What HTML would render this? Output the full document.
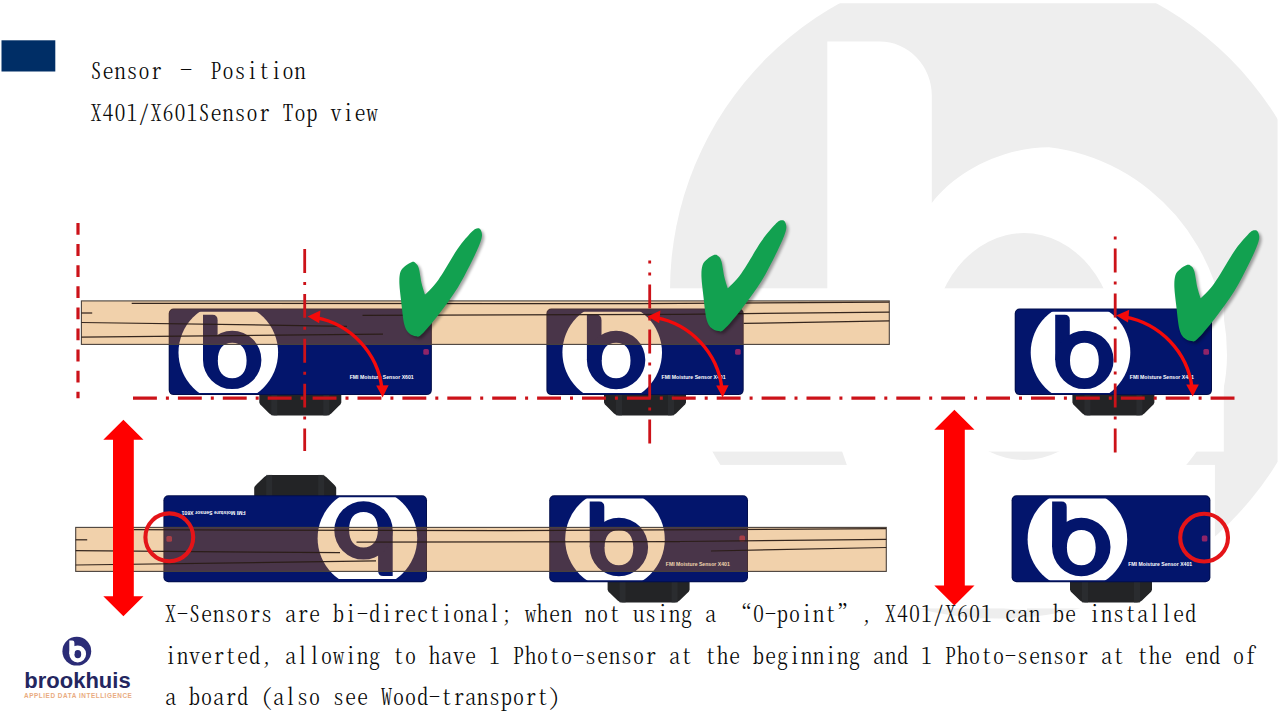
<!DOCTYPE html>
<html lang="en"><head><meta charset="utf-8"><title>Sensor - Position</title>
<style>
html,body{margin:0;padding:0;background:#fff;}
body{width:1280px;height:721px;position:relative;overflow:hidden;font-family:"Liberation Sans",sans-serif;}
.t{position:absolute;white-space:pre;color:#0a0a0a;font-family:"Noto Serif CJK SC","Liberation Serif",serif;font-weight:300;font-size:22px;line-height:41.6px;font-feature-settings:"hwid";font-kerning:none;letter-spacing:1px;}
.fw{display:inline-block;width:24px;text-align:center;position:relative;top:-4px;}
.fwl{display:inline-block;width:24px;text-align:right;}
.fwr{display:inline-block;width:24px;text-align:left;}
.brand{position:absolute;left:24.3px;top:667.6px;font:bold 22px/26px "Liberation Sans",sans-serif;color:#24265f;letter-spacing:0;white-space:pre;}
.sub{position:absolute;left:24px;top:691.5px;font:bold 6.4px/8px "Liberation Sans",sans-serif;color:#e9ab80;letter-spacing:0.55px;white-space:pre;}
</style></head><body>
<svg width="1280" height="721" viewBox="0 0 1280 721" style="position:absolute;left:0;top:0">
<defs><filter id="blur" x="-20%" y="-20%" width="140%" height="140%"><feGaussianBlur stdDeviation="1.6"/></filter><clipPath id="wmclip"><rect x="0" y="3.3" width="1277.6" height="720"/></clipPath></defs>
<g clip-path="url(#wmclip)"><circle cx="998" cy="290.5" r="328" fill="#eeeeee"/><path d="M827.3 41.6 L879.8 41.6 A52 54 0 0 1 931.8 95.6 L931.8 203 C955 172 1002 147.3 1049 147.3 A200 209 0 0 1 1227 355 A200 182 0 0 1 1027 537 L1027 610 A200 255 0 0 1 827.3 355 Z" fill="#fff"/><ellipse cx="1024" cy="346.5" rx="92.7" ry="113.5" fill="#eeeeee"/></g>
<rect x="60" y="288.3" width="1163.8" height="163.3" fill="#fff"/>
<rect x="60" y="464.9" width="1154.9" height="143.5" fill="#fff"/>
<rect x="1.5" y="40.3" width="53.8" height="31.2" fill="#002e66"/>
<g>
<path d="M259.3 394.1 L259.3 402.6 Q259.8 404.6 261.8 406.1 L269.3 413.4 Q271.3 415.4 274.3 415.4 L326.3 415.4 Q329.3 415.4 331.3 413.4 L338.8 406.1 Q340.8 404.6 341.3 402.6 L341.3 394.1 Z" fill="#232426"/>
<rect x="271.3" y="394.1" width="6" height="21.3" fill="#2e3033" opacity="0.7"/>
<rect x="323.3" y="394.1" width="6" height="21.3" fill="#2e3033" opacity="0.7"/>
<rect x="168.7" y="308.5" width="263.2" height="86.6" rx="5" ry="5" fill="#020e4c"/>
<rect x="169.7" y="309.5" width="261.2" height="84.6" rx="4" ry="4" fill="#03156c"/>
<clipPath id="c168_308"><rect x="168.7" y="311.8" width="263.2" height="81.3"/></clipPath>
<circle cx="228.3" cy="352.5" r="49.8" fill="#fff" clip-path="url(#c168_308)"/>
<path fill="#03156c" d="M203.0 314.8 L212.5 314.8 Q217.6 314.8 217.6 320.3 L217.6 359.9 L203.0 359.9 Z"/>
<path fill="#03156c" fill-rule="evenodd" d="M203.0 359.9 A29.2 29.2 0 1 0 261.4 359.9 A29.2 29.2 0 1 0 203.0 359.9 Z M217.80 360.50 C217.80 371.83 222.98 378.20 232.20 378.20 C241.42 378.20 246.60 371.83 246.60 360.50 C246.60 349.17 241.42 342.80 232.20 342.80 C222.98 342.80 217.80 349.17 217.80 360.50 Z"/>
<text x="1654.8" y="1517.2" transform="scale(0.25)" text-anchor="end" font-family="Liberation Sans, sans-serif" font-weight="bold" font-size="21" fill="#fff" textLength="256" lengthAdjust="spacingAndGlyphs">FMI Moisture Sensor X601</text>
<rect x="423.3" y="348.9" width="5.6" height="5.8" rx="1.5" fill="#8f2468"/>
</g>
<g>
<path d="M604.0 394.1 L604.0 402.6 Q604.5 404.6 606.5 406.1 L614.0 413.4 Q616.0 415.4 619.0 415.4 L671.0 415.4 Q674.0 415.4 676.0 413.4 L683.5 406.1 Q685.5 404.6 686.0 402.6 L686.0 394.1 Z" fill="#232426"/>
<rect x="616.0" y="394.1" width="6" height="21.3" fill="#2e3033" opacity="0.7"/>
<rect x="668.0" y="394.1" width="6" height="21.3" fill="#2e3033" opacity="0.7"/>
<rect x="546.4" y="308.5" width="197.3" height="86.6" rx="5" ry="5" fill="#020e4c"/>
<rect x="547.4" y="309.5" width="195.3" height="84.6" rx="4" ry="4" fill="#03156c"/>
<clipPath id="c546_308"><rect x="546.4" y="311.8" width="197.3" height="81.3"/></clipPath>
<circle cx="612.2" cy="352.5" r="49.8" fill="#fff" clip-path="url(#c546_308)"/>
<path fill="#03156c" d="M586.9 314.8 L596.4 314.8 Q601.5 314.8 601.5 320.3 L601.5 359.9 L586.9 359.9 Z"/>
<path fill="#03156c" fill-rule="evenodd" d="M586.9 359.9 A29.2 29.2 0 1 0 645.3 359.9 A29.2 29.2 0 1 0 586.9 359.9 Z M601.70 360.50 C601.70 371.83 606.88 378.20 616.10 378.20 C625.32 378.20 630.50 371.83 630.50 360.50 C630.50 349.17 625.32 342.80 616.10 342.80 C606.88 342.80 601.70 349.17 601.70 360.50 Z"/>
<text x="2902.0" y="1517.2" transform="scale(0.25)" text-anchor="end" font-family="Liberation Sans, sans-serif" font-weight="bold" font-size="21" fill="#fff" textLength="256" lengthAdjust="spacingAndGlyphs">FMI Moisture Sensor X401</text>
<rect x="735.1" y="348.9" width="5.6" height="5.8" rx="1.5" fill="#8f2468"/>
</g>
<g>
<path d="M1072.4 394.1 L1072.4 402.6 Q1072.9 404.6 1074.9 406.1 L1082.4 413.4 Q1084.4 415.4 1087.4 415.4 L1139.4 415.4 Q1142.4 415.4 1144.4 413.4 L1151.9 406.1 Q1153.9 404.6 1154.4 402.6 L1154.4 394.1 Z" fill="#232426"/>
<rect x="1084.4" y="394.1" width="6" height="21.3" fill="#2e3033" opacity="0.7"/>
<rect x="1136.4" y="394.1" width="6" height="21.3" fill="#2e3033" opacity="0.7"/>
<rect x="1014.7" y="308.5" width="197.3" height="86.6" rx="5" ry="5" fill="#020e4c"/>
<rect x="1015.7" y="309.5" width="195.3" height="84.6" rx="4" ry="4" fill="#03156c"/>
<clipPath id="c1014_308"><rect x="1014.7" y="311.8" width="197.3" height="81.3"/></clipPath>
<circle cx="1080.5" cy="352.5" r="49.8" fill="#fff" clip-path="url(#c1014_308)"/>
<path fill="#03156c" d="M1055.2 314.8 L1064.7 314.8 Q1069.8 314.8 1069.8 320.3 L1069.8 359.9 L1055.2 359.9 Z"/>
<path fill="#03156c" fill-rule="evenodd" d="M1055.2 359.9 A29.2 29.2 0 1 0 1113.6 359.9 A29.2 29.2 0 1 0 1055.2 359.9 Z M1070.00 360.50 C1070.00 371.83 1075.18 378.20 1084.40 378.20 C1093.62 378.20 1098.80 371.83 1098.80 360.50 C1098.80 349.17 1093.62 342.80 1084.40 342.80 C1075.18 342.80 1070.00 349.17 1070.00 360.50 Z"/>
<text x="4775.2" y="1517.2" transform="scale(0.25)" text-anchor="end" font-family="Liberation Sans, sans-serif" font-weight="bold" font-size="21" fill="#fff" textLength="256" lengthAdjust="spacingAndGlyphs">FMI Moisture Sensor X401</text>
<rect x="1203.4" y="348.9" width="5.6" height="5.8" rx="1.5" fill="#8f2468"/>
</g>
<g transform="rotate(180 295.20 538.70)">
<path d="M254.2 581.2 L254.2 589.7 Q254.7 591.7 256.7 593.2 L264.2 600.5 Q266.2 602.5 269.2 602.5 L321.2 602.5 Q324.2 602.5 326.2 600.5 L333.7 593.2 Q335.7 591.7 336.2 589.7 L336.2 581.2 Z" fill="#232426"/>
<rect x="266.2" y="581.2" width="6" height="21.3" fill="#2e3033" opacity="0.7"/>
<rect x="318.2" y="581.2" width="6" height="21.3" fill="#2e3033" opacity="0.7"/>
<rect x="163.4" y="495.2" width="263.6" height="87.0" rx="5" ry="5" fill="#020e4c"/>
<rect x="164.4" y="496.2" width="261.6" height="85.0" rx="4" ry="4" fill="#03156c"/>
<clipPath id="c163_495"><rect x="163.4" y="498.5" width="263.6" height="81.7"/></clipPath>
<circle cx="223.0" cy="539.2" r="49.8" fill="#fff" clip-path="url(#c163_495)"/>
<path fill="#03156c" d="M197.7 501.5 L207.2 501.5 Q212.3 501.5 212.3 507.0 L212.3 547.0 L197.7 547.0 Z"/>
<path fill="#03156c" fill-rule="evenodd" d="M197.7 547.0 A29.2 29.2 0 1 0 256.1 547.0 A29.2 29.2 0 1 0 197.7 547.0 Z M212.50 547.60 C212.50 558.93 217.68 565.30 226.90 565.30 C236.12 565.30 241.30 558.93 241.30 547.60 C241.30 536.27 236.12 529.90 226.90 529.90 C217.68 529.90 212.50 536.27 212.50 547.60 Z"/>
<text x="1635.2" y="2265.6" transform="scale(0.25)" text-anchor="end" font-family="Liberation Sans, sans-serif" font-weight="bold" font-size="21" fill="#fff" textLength="256" lengthAdjust="spacingAndGlyphs">FMI Moisture Sensor X601</text>
<rect x="418.4" y="535.6" width="5.6" height="5.8" rx="1.5" fill="#8f2468"/>
</g>
<g>
<path d="M607.6 581.2 L607.6 589.7 Q608.1 591.7 610.1 593.2 L617.6 600.5 Q619.6 602.5 622.6 602.5 L674.6 602.5 Q677.6 602.5 679.6 600.5 L687.1 593.2 Q689.1 591.7 689.6 589.7 L689.6 581.2 Z" fill="#232426"/>
<rect x="619.6" y="581.2" width="6" height="21.3" fill="#2e3033" opacity="0.7"/>
<rect x="671.6" y="581.2" width="6" height="21.3" fill="#2e3033" opacity="0.7"/>
<rect x="549.2" y="495.2" width="198.8" height="87.0" rx="5" ry="5" fill="#020e4c"/>
<rect x="550.2" y="496.2" width="196.8" height="85.0" rx="4" ry="4" fill="#03156c"/>
<clipPath id="c549_495"><rect x="549.2" y="498.5" width="198.8" height="81.7"/></clipPath>
<circle cx="615.0" cy="539.2" r="49.8" fill="#fff" clip-path="url(#c549_495)"/>
<path fill="#03156c" d="M589.7 501.5 L599.2 501.5 Q604.3 501.5 604.3 507.0 L604.3 547.0 L589.7 547.0 Z"/>
<path fill="#03156c" fill-rule="evenodd" d="M589.7 547.0 A29.2 29.2 0 1 0 648.1 547.0 A29.2 29.2 0 1 0 589.7 547.0 Z M604.50 547.60 C604.50 558.93 609.68 565.30 618.90 565.30 C628.12 565.30 633.30 558.93 633.30 547.60 C633.30 536.27 628.12 529.90 618.90 529.90 C609.68 529.90 604.50 536.27 604.50 547.60 Z"/>
<text x="2919.2" y="2265.6" transform="scale(0.25)" text-anchor="end" font-family="Liberation Sans, sans-serif" font-weight="bold" font-size="21" fill="#fff" textLength="256" lengthAdjust="spacingAndGlyphs">FMI Moisture Sensor X401</text>
<rect x="739.4" y="535.6" width="5.6" height="5.8" rx="1.5" fill="#8f2468"/>
</g>
<g>
<path d="M1070.0 581.2 L1070.0 589.7 Q1070.5 591.7 1072.5 593.2 L1080.0 600.5 Q1082.0 602.5 1085.0 602.5 L1137.0 602.5 Q1140.0 602.5 1142.0 600.5 L1149.5 593.2 Q1151.5 591.7 1152.0 589.7 L1152.0 581.2 Z" fill="#232426"/>
<rect x="1082.0" y="581.2" width="6" height="21.3" fill="#2e3033" opacity="0.7"/>
<rect x="1134.0" y="581.2" width="6" height="21.3" fill="#2e3033" opacity="0.7"/>
<rect x="1011.6" y="495.2" width="198.8" height="87.0" rx="5" ry="5" fill="#020e4c"/>
<rect x="1012.6" y="496.2" width="196.8" height="85.0" rx="4" ry="4" fill="#03156c"/>
<clipPath id="c1011_495"><rect x="1011.6" y="498.5" width="198.8" height="81.7"/></clipPath>
<circle cx="1077.4" cy="539.2" r="49.8" fill="#fff" clip-path="url(#c1011_495)"/>
<path fill="#03156c" d="M1052.1 501.5 L1061.6 501.5 Q1066.7 501.5 1066.7 507.0 L1066.7 547.0 L1052.1 547.0 Z"/>
<path fill="#03156c" fill-rule="evenodd" d="M1052.1 547.0 A29.2 29.2 0 1 0 1110.5 547.0 A29.2 29.2 0 1 0 1052.1 547.0 Z M1066.90 547.60 C1066.90 558.93 1072.08 565.30 1081.30 565.30 C1090.52 565.30 1095.70 558.93 1095.70 547.60 C1095.70 536.27 1090.52 529.90 1081.30 529.90 C1072.08 529.90 1066.90 536.27 1066.90 547.60 Z"/>
<text x="4768.8" y="2265.6" transform="scale(0.25)" text-anchor="end" font-family="Liberation Sans, sans-serif" font-weight="bold" font-size="21" fill="#fff" textLength="256" lengthAdjust="spacingAndGlyphs">FMI Moisture Sensor X401</text>
<rect x="1201.8" y="535.6" width="5.6" height="5.8" rx="1.5" fill="#8f2468"/>
</g>
<g>
<rect x="81.4" y="300.9" width="807.9" height="43.5" fill="rgb(212,116,2)" fill-opacity="0.335" stroke="#4a423c" stroke-width="1.1"/>
<line x1="131.7" y1="303.3" x2="640" y2="303.6" stroke="#2a1c16" stroke-width="1.25" stroke-opacity="0.95"/>
<line x1="640" y1="303.6" x2="889" y2="302" stroke="#2a1c16" stroke-width="1.25" stroke-opacity="0.95"/>
<line x1="81.4" y1="313" x2="92.2" y2="313" stroke="#2a1c16" stroke-width="1.25" stroke-opacity="0.95"/>
<line x1="81.4" y1="322.5" x2="347" y2="326.3" stroke="#2a1c16" stroke-width="1.25" stroke-opacity="0.95"/>
<line x1="81.4" y1="337.1" x2="383" y2="334.2" stroke="#2a1c16" stroke-width="1.25" stroke-opacity="0.95"/>
<line x1="362.5" y1="315.3" x2="680" y2="314.3" stroke="#2a1c16" stroke-width="1.25" stroke-opacity="0.95"/>
<line x1="680" y1="314.3" x2="889.3" y2="312.2" stroke="#2a1c16" stroke-width="1.25" stroke-opacity="0.95"/>
<line x1="743.6" y1="323.4" x2="889.3" y2="320.8" stroke="#2a1c16" stroke-width="1.25" stroke-opacity="0.95"/>
</g>
<g>
<rect x="75.7" y="527.4" width="810.6" height="44.0" fill="rgb(212,116,2)" fill-opacity="0.335" stroke="#4a423c" stroke-width="1.1"/>
<line x1="133.6" y1="529.7" x2="500" y2="530.7" stroke="#2a1c16" stroke-width="1.25" stroke-opacity="0.95"/>
<line x1="500" y1="530.7" x2="886" y2="528.6" stroke="#2a1c16" stroke-width="1.25" stroke-opacity="0.95"/>
<line x1="75.7" y1="539.8" x2="87.2" y2="539.8" stroke="#2a1c16" stroke-width="1.25" stroke-opacity="0.95"/>
<line x1="75.7" y1="550.6" x2="340" y2="552.7" stroke="#2a1c16" stroke-width="1.25" stroke-opacity="0.95"/>
<line x1="75.7" y1="565" x2="376" y2="560.9" stroke="#2a1c16" stroke-width="1.25" stroke-opacity="0.95"/>
<line x1="356.5" y1="542" x2="680" y2="541.5" stroke="#2a1c16" stroke-width="1.25" stroke-opacity="0.95"/>
<line x1="680" y1="541.5" x2="886.3" y2="539.3" stroke="#2a1c16" stroke-width="1.25" stroke-opacity="0.95"/>
<line x1="711" y1="551" x2="886.3" y2="547.5" stroke="#2a1c16" stroke-width="1.25" stroke-opacity="0.95"/>
</g>
<g stroke="#cc1219" stroke-width="3.2" fill="none"><line x1="78" y1="223" x2="78" y2="398.3" stroke-dasharray="11.8 9.3"/><line x1="133" y1="398.2" x2="1234.6" y2="398.2" stroke-dasharray="23.9 9 3 9"/><line x1="304.7" y1="249" x2="304.7" y2="451" stroke-dasharray="23.9 9 3 9" stroke-width="2.8"/><line x1="649.7" y1="260.4" x2="649.7" y2="443.4" stroke-dasharray="24 9 3 9" stroke-dashoffset="21" stroke-width="2.8"/><line x1="1115.2" y1="236.5" x2="1115.2" y2="452.5" stroke-dasharray="24 9 3 9" stroke-dashoffset="33" stroke-width="2.8"/></g>
<g transform="translate(0 0) translate(308 397) scale(1.0 1) translate(-308 -397)"><path d="M316 317.6 A82 82 0 0 1 381.9 388" fill="none" stroke="#f40a0a" stroke-width="3.4"/><path d="M307.6 316.4 L320.4 310.6 L319.2 323.2 Z" fill="#f40a0a"/><path d="M382.6 397.4 L376.2 385.4 L388.6 385.2 Z" fill="#f40a0a"/></g>
<g transform="translate(340 0) translate(308 397) scale(1.0 1) translate(-308 -397)"><path d="M316 317.6 A82 82 0 0 1 381.9 388" fill="none" stroke="#f40a0a" stroke-width="3.4"/><path d="M307.6 316.4 L320.4 310.6 L319.2 323.2 Z" fill="#f40a0a"/><path d="M382.6 397.4 L376.2 385.4 L388.6 385.2 Z" fill="#f40a0a"/></g>
<g transform="translate(808.6 -0.8) translate(308 397) scale(1.02 1) translate(-308 -397)"><path d="M316 317.6 A82 82 0 0 1 381.9 388" fill="none" stroke="#f40a0a" stroke-width="3.4"/><path d="M307.6 316.4 L320.4 310.6 L319.2 323.2 Z" fill="#f40a0a"/><path d="M382.6 397.4 L376.2 385.4 L388.6 385.2 Z" fill="#f40a0a"/></g>
<g transform="translate(0 0) translate(440.4 282.3) scale(1.0) translate(-440.4 -282.3)"><path d="M400.4 272.1 C401.3 269.2 403.0 268.0 404.9 266.3 C406.8 264.6 410.2 262.5 412.0 262.0 C413.8 261.5 414.8 262.3 415.9 263.4 C417.0 264.4 417.8 264.9 418.8 268.3 C419.8 271.7 420.7 279.4 421.7 283.8 C422.7 288.2 425.0 294.5 425.0 294.5 C425.0 294.5 432.9 287.5 438.3 279.9 C443.8 272.3 452.2 256.7 457.7 248.8 C463.2 240.9 468.1 235.7 471.3 232.3 C474.5 228.9 475.5 228.7 477.1 228.4 C478.7 228.1 480.3 228.6 481.0 230.4 C481.7 232.2 482.7 234.4 481.4 239.1 C480.1 243.8 477.1 250.4 473.2 258.5 C469.2 266.6 463.5 278.3 457.7 287.7 C451.9 297.1 444.3 307.1 438.3 314.9 C432.3 322.7 425.4 330.8 421.7 334.3 C418.0 337.9 418.0 336.4 415.9 336.2 C413.8 336.0 411.0 335.2 409.1 333.3 C407.2 331.4 405.6 329.6 404.3 324.6 C403.0 319.6 402.2 310.0 401.4 303.2 C400.6 296.4 399.6 289.0 399.4 283.8 C399.2 278.6 399.5 275.0 400.4 272.1 Z" fill="#000" opacity="0.35" transform="translate(2.2 2.2)" filter="url(#blur)"/><path d="M400.4 272.1 C401.3 269.2 403.0 268.0 404.9 266.3 C406.8 264.6 410.2 262.5 412.0 262.0 C413.8 261.5 414.8 262.3 415.9 263.4 C417.0 264.4 417.8 264.9 418.8 268.3 C419.8 271.7 420.7 279.4 421.7 283.8 C422.7 288.2 425.0 294.5 425.0 294.5 C425.0 294.5 432.9 287.5 438.3 279.9 C443.8 272.3 452.2 256.7 457.7 248.8 C463.2 240.9 468.1 235.7 471.3 232.3 C474.5 228.9 475.5 228.7 477.1 228.4 C478.7 228.1 480.3 228.6 481.0 230.4 C481.7 232.2 482.7 234.4 481.4 239.1 C480.1 243.8 477.1 250.4 473.2 258.5 C469.2 266.6 463.5 278.3 457.7 287.7 C451.9 297.1 444.3 307.1 438.3 314.9 C432.3 322.7 425.4 330.8 421.7 334.3 C418.0 337.9 418.0 336.4 415.9 336.2 C413.8 336.0 411.0 335.2 409.1 333.3 C407.2 331.4 405.6 329.6 404.3 324.6 C403.0 319.6 402.2 310.0 401.4 303.2 C400.6 296.4 399.6 289.0 399.4 283.8 C399.2 278.6 399.5 275.0 400.4 272.1 Z" fill="#12a150"/></g>
<g transform="translate(303.2 -6.6) translate(440.4 282.3) scale(1.027) translate(-440.4 -282.3)"><path d="M400.4 272.1 C401.3 269.2 403.0 268.0 404.9 266.3 C406.8 264.6 410.2 262.5 412.0 262.0 C413.8 261.5 414.8 262.3 415.9 263.4 C417.0 264.4 417.8 264.9 418.8 268.3 C419.8 271.7 420.7 279.4 421.7 283.8 C422.7 288.2 425.0 294.5 425.0 294.5 C425.0 294.5 432.9 287.5 438.3 279.9 C443.8 272.3 452.2 256.7 457.7 248.8 C463.2 240.9 468.1 235.7 471.3 232.3 C474.5 228.9 475.5 228.7 477.1 228.4 C478.7 228.1 480.3 228.6 481.0 230.4 C481.7 232.2 482.7 234.4 481.4 239.1 C480.1 243.8 477.1 250.4 473.2 258.5 C469.2 266.6 463.5 278.3 457.7 287.7 C451.9 297.1 444.3 307.1 438.3 314.9 C432.3 322.7 425.4 330.8 421.7 334.3 C418.0 337.9 418.0 336.4 415.9 336.2 C413.8 336.0 411.0 335.2 409.1 333.3 C407.2 331.4 405.6 329.6 404.3 324.6 C403.0 319.6 402.2 310.0 401.4 303.2 C400.6 296.4 399.6 289.0 399.4 283.8 C399.2 278.6 399.5 275.0 400.4 272.1 Z" fill="#000" opacity="0.35" transform="translate(2.2 2.2)" filter="url(#blur)"/><path d="M400.4 272.1 C401.3 269.2 403.0 268.0 404.9 266.3 C406.8 264.6 410.2 262.5 412.0 262.0 C413.8 261.5 414.8 262.3 415.9 263.4 C417.0 264.4 417.8 264.9 418.8 268.3 C419.8 271.7 420.7 279.4 421.7 283.8 C422.7 288.2 425.0 294.5 425.0 294.5 C425.0 294.5 432.9 287.5 438.3 279.9 C443.8 272.3 452.2 256.7 457.7 248.8 C463.2 240.9 468.1 235.7 471.3 232.3 C474.5 228.9 475.5 228.7 477.1 228.4 C478.7 228.1 480.3 228.6 481.0 230.4 C481.7 232.2 482.7 234.4 481.4 239.1 C480.1 243.8 477.1 250.4 473.2 258.5 C469.2 266.6 463.5 278.3 457.7 287.7 C451.9 297.1 444.3 307.1 438.3 314.9 C432.3 322.7 425.4 330.8 421.7 334.3 C418.0 337.9 418.0 336.4 415.9 336.2 C413.8 336.0 411.0 335.2 409.1 333.3 C407.2 331.4 405.6 329.6 404.3 324.6 C403.0 319.6 402.2 310.0 401.4 303.2 C400.6 296.4 399.6 289.0 399.4 283.8 C399.2 278.6 399.5 275.0 400.4 272.1 Z" fill="#12a150"/></g>
<g transform="translate(776.1 3.4) translate(440.4 282.3) scale(1.027) translate(-440.4 -282.3)"><path d="M400.4 272.1 C401.3 269.2 403.0 268.0 404.9 266.3 C406.8 264.6 410.2 262.5 412.0 262.0 C413.8 261.5 414.8 262.3 415.9 263.4 C417.0 264.4 417.8 264.9 418.8 268.3 C419.8 271.7 420.7 279.4 421.7 283.8 C422.7 288.2 425.0 294.5 425.0 294.5 C425.0 294.5 432.9 287.5 438.3 279.9 C443.8 272.3 452.2 256.7 457.7 248.8 C463.2 240.9 468.1 235.7 471.3 232.3 C474.5 228.9 475.5 228.7 477.1 228.4 C478.7 228.1 480.3 228.6 481.0 230.4 C481.7 232.2 482.7 234.4 481.4 239.1 C480.1 243.8 477.1 250.4 473.2 258.5 C469.2 266.6 463.5 278.3 457.7 287.7 C451.9 297.1 444.3 307.1 438.3 314.9 C432.3 322.7 425.4 330.8 421.7 334.3 C418.0 337.9 418.0 336.4 415.9 336.2 C413.8 336.0 411.0 335.2 409.1 333.3 C407.2 331.4 405.6 329.6 404.3 324.6 C403.0 319.6 402.2 310.0 401.4 303.2 C400.6 296.4 399.6 289.0 399.4 283.8 C399.2 278.6 399.5 275.0 400.4 272.1 Z" fill="#000" opacity="0.35" transform="translate(2.2 2.2)" filter="url(#blur)"/><path d="M400.4 272.1 C401.3 269.2 403.0 268.0 404.9 266.3 C406.8 264.6 410.2 262.5 412.0 262.0 C413.8 261.5 414.8 262.3 415.9 263.4 C417.0 264.4 417.8 264.9 418.8 268.3 C419.8 271.7 420.7 279.4 421.7 283.8 C422.7 288.2 425.0 294.5 425.0 294.5 C425.0 294.5 432.9 287.5 438.3 279.9 C443.8 272.3 452.2 256.7 457.7 248.8 C463.2 240.9 468.1 235.7 471.3 232.3 C474.5 228.9 475.5 228.7 477.1 228.4 C478.7 228.1 480.3 228.6 481.0 230.4 C481.7 232.2 482.7 234.4 481.4 239.1 C480.1 243.8 477.1 250.4 473.2 258.5 C469.2 266.6 463.5 278.3 457.7 287.7 C451.9 297.1 444.3 307.1 438.3 314.9 C432.3 322.7 425.4 330.8 421.7 334.3 C418.0 337.9 418.0 336.4 415.9 336.2 C413.8 336.0 411.0 335.2 409.1 333.3 C407.2 331.4 405.6 329.6 404.3 324.6 C403.0 319.6 402.2 310.0 401.4 303.2 C400.6 296.4 399.6 289.0 399.4 283.8 C399.2 278.6 399.5 275.0 400.4 272.1 Z" fill="#12a150"/></g>
<path d="M123.4 419.8 L143.5 439.7 L133.8 439.7 L133.8 596.3000000000001 L143.5 596.3000000000001 L123.4 616.2 L103.30000000000001 596.3000000000001 L113.0 596.3000000000001 L113.0 439.7 L103.30000000000001 439.7 Z" fill="#ff0000"/>
<path d="M954.4 409.8 L974.5 429.7 L964.8 429.7 L964.8 585.5 L974.5 585.5 L954.4 605.4 L934.3 585.5 L944.0 585.5 L944.0 429.7 L934.3 429.7 Z" fill="#ff0000"/>
<circle cx="169.3" cy="537.3" r="23.9" fill="none" stroke="#e41418" stroke-width="4.1"/>
<circle cx="1204.1" cy="537.6" r="23.9" fill="none" stroke="#e41418" stroke-width="4.1"/>
<circle cx="76.8" cy="651.2" r="14.4" fill="#2b2c77"/>
<path fill="#fff" d="M69.3 640.6 L72.3 640.6 Q74.4 640.6 74.4 642.7 L74.4 654 L69.3 654 Z"/>
<path fill="#fff" fill-rule="evenodd" d="M69.3 654 A8.4 8.4 0 1 0 86.1 654 A8.4 8.4 0 1 0 69.3 654 Z M74.4 654.2 A3.4 4.1 0 1 1 81.2 654.2 A3.4 4.1 0 1 1 74.4 654.2 Z"/>
</svg>
<div class="t" style="left:90.6px;top:49px">Sensor <span class="fw">–</span> Position
X401/X601Sensor Top view</div>
<div class="t" style="left:165px;top:592px">X-Sensors are bi-directional; when not using a <span class="fwl">“</span>0-point<span class="fwr">”</span>, X401/X601 can be installed
inverted, allowing to have 1 Photo-sensor at the beginning and 1 Photo-sensor at the end of
a board (also see Wood-transport)</div>
<div class="brand">brookhuis</div>
<div class="sub">APPLIED DATA INTELLIGENCE</div>
</body></html>
